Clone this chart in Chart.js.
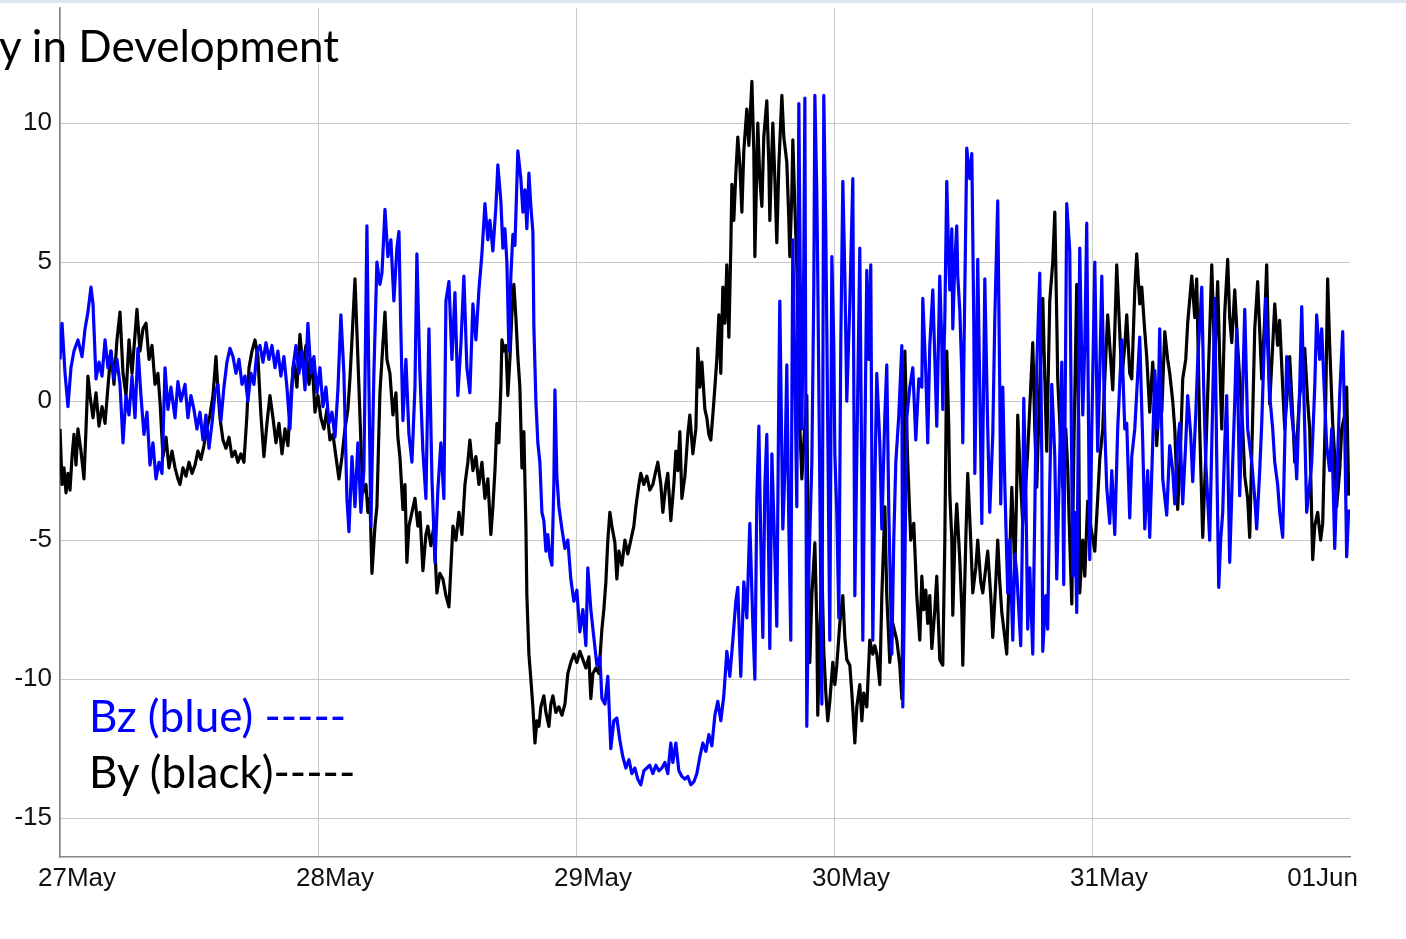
<!DOCTYPE html>
<html><head><meta charset="utf-8">
<script src="https://cdn.jsdelivr.net/npm/chart.js@4.4.1/dist/chart.umd.min.js"></script>
<style>
html,body{margin:0;padding:0;background:#fff;width:1406px;height:939px;overflow:hidden}
#wrap{position:relative;width:1406px;height:939px}
#topband{position:absolute;left:0;top:0;width:1406px;height:3px;background:#dfe6f1}
canvas{position:absolute;left:0;top:0}
.txt{position:absolute;font-family:Lato,'Open Sans',sans-serif;font-size:44px;line-height:44px;white-space:nowrap}
</style></head><body>
<div id="wrap">
<canvas id="c" width="1406" height="939"></canvas>
<div id="topband"></div>
<div class="txt" style="left:-1px;top:23px;color:#000">y in Development</div>
<div class="txt" style="left:89px;top:693px;color:#0000ff">Bz (blue) -----</div>
<div class="txt" style="left:89px;top:749px;color:#000">By (black)-----</div>
</div>
<script>
// hours since 27 May 00:00, field in nT
const bzSamples = [
[0,1.5],[0.19,2.8],[0.47,1.0],[0.74,-0.2],[1.02,1.2],[1.30,1.8],[1.67,2.2],[2.05,1.6],[2.33,2.6],[2.60,3.2],[2.88,4.1],[3.07,3.5],[3.35,0.8],[3.63,1.4],[3.91,0.9],[4.19,2.2],[4.46,1.2],[4.74,1.8],[5.02,0.8],[5.30,1.5],[5.58,0.6],[5.86,-1.5],[6.14,0.2],[6.42,-0.5],[6.70,0.9],[6.98,-0.6],[7.25,1.9],[7.53,0.2],[7.81,-1.2],[8.09,-0.4],[8.37,-2.3],[8.65,-1.5],[8.93,-2.8],[9.21,-2.2],[9.49,-2.6],[9.77,1.2],[10.04,-0.3],[10.32,0.5],[10.70,-0.6],[10.97,0.7],[11.25,0.0],[11.63,0.6],[11.90,-0.6],[12.18,0.2],[12.46,-0.3],[12.74,-1.0],[13.02,-0.4],[13.30,-1.4],[13.58,-0.5],[13.86,-1.7],[14.14,-0.8],[14.42,0.3],[14.69,0.6],[14.97,-0.7],[15.25,0.5],[15.53,1.4],[15.81,1.9],[16.09,1.6],[16.37,1.0],[16.65,1.5],[16.93,0.6],[17.21,0.9],[17.48,0.0],[17.76,1.0],[18.04,0.6],[18.32,1.8],[18.60,2.0],[18.88,1.4],[19.16,2.1],[19.44,1.5],[19.72,2.0],
[20.00,1.2],[20.27,1.8],[20.55,0.9],[20.83,1.6],[21.11,0.5],[21.39,-1.0],[21.67,1.2],[21.95,2.0],[22.23,1.0],[22.51,1.8],[22.79,0.4],[23.06,2.8],[23.34,1.0],[23.62,1.6],[23.90,0.3],[24.18,1.2],[24.46,-0.2],[24.74,0.5],[25.02,-0.8],[25.30,-0.4],[25.58,-1.3],[25.85,0.4],[26.13,3.1],[26.41,1.0],[26.69,-3.5],[26.88,-4.7],[27.16,-2.0],[27.44,-3.8],[27.71,-1.5],[27.99,-4.0],[28.27,-2.5],[28.55,6.3],[28.74,0.5],[28.92,-4.5],[29.20,1.0],[29.48,5.0],[29.76,4.2],[29.95,4.6],[30.23,6.9],[30.50,5.2],[30.78,5.8],[31.06,3.6],[31.34,5.5],[31.53,6.1],[31.71,2.5],[31.90,-0.7],[32.18,1.5],[32.46,-1.2],[32.74,-2.2],[33.02,0.5],[33.20,5.3],[33.48,1.0],[33.76,-1.8],[34.04,-3.5],[34.32,2.6],[34.60,-2.8],[34.88,-5.8],[35.15,-3.2],[35.43,-1.5],[35.71,-3.5],[35.90,3.6],[36.18,4.3],[36.46,1.5],[36.74,3.9],[37.01,0.2],[37.29,2.0],[37.57,4.5],[37.85,1.2],[38.13,0.3],[38.41,3.5],[38.69,2.2],[38.97,4.0],[39.25,5.3],[39.53,7.1],[39.80,5.8],
[39.99,6.5],[40.27,5.4],[40.55,7.0],[40.73,8.5],[41.01,7.2],[41.20,5.5],[41.39,6.2],[41.57,5.0],[41.76,1.8],[41.94,4.5],[42.13,6.0],[42.32,5.6],[42.59,9.0],[42.87,8.0],[43.06,6.8],[43.25,7.6],[43.43,6.2],[43.62,8.2],[43.80,7.0],[43.99,6.1],[44.08,2.7],[44.27,0.0],[44.45,-1.5],[44.64,-2.2],[44.83,-4.0],[45.01,-4.3],[45.20,-5.4],[45.38,-4.8],[45.57,-5.6],[45.76,-5.9],[45.94,-3.0],[46.04,0.4],[46.22,-2.7],[46.41,-3.8],[46.69,-4.6],[46.97,-5.3],[47.24,-5.0],[47.52,-6.4],[47.80,-7.2],[48.08,-6.8],[48.36,-8.3],[48.64,-7.5],[48.92,-8.8],[49.10,-6.0],[49.38,-7.5],[49.66,-8.5],[49.94,-9.5],[50.22,-9.2],[50.41,-10.7],[50.69,-10.9],[50.96,-9.9],[51.24,-12.5],[51.52,-11.5],[51.80,-11.4],[52.08,-12.2],[52.36,-12.8],[52.64,-13.2],[52.92,-12.9],[53.20,-13.4],[53.48,-13.2],[53.75,-13.6],[54.03,-13.8],[54.31,-13.3],[54.59,-13.2],[54.87,-13.1],[55.15,-13.4],[55.43,-13.1],[55.71,-13.3],[55.99,-13.2],[56.27,-13.0],[56.54,-13.4],[56.82,-12.3],[57.01,-13.0],[57.29,-12.3],[57.57,-13.3],[57.85,-13.5],[58.13,-13.6],[58.40,-13.5],[58.68,-13.8],[58.96,-13.7],[59.24,-13.4],[59.52,-12.8],[59.80,-12.3],
[60.08,-12.6],[60.36,-12.0],[60.64,-12.4],[60.92,-11.3],[61.19,-10.8],[61.47,-11.5],[61.75,-10.6],[62.03,-9.0],[62.31,-9.9],[62.59,-8.6],[62.87,-7.2],[63.05,-6.7],[63.33,-9.9],[63.61,-6.5],[63.89,-7.8],[64.17,-4.4],[64.45,-8.0],[64.64,-10.0],[64.82,-3.5],[65.01,-0.9],[65.19,-5.0],[65.38,-8.5],[65.57,-3.0],[65.75,-1.2],[65.94,-6.0],[66.03,-8.9],[66.22,-1.9],[66.50,-5.5],[66.68,-8.1],[66.87,0.5],[66.96,3.6],[67.15,-2.0],[67.24,-4.6],[67.43,-2.5],[67.61,1.3],[67.80,-4.5],[67.98,-8.6],[68.08,0.0],[68.17,5.8],[68.36,1.0],[68.54,-3.8],[68.73,10.7],[68.91,2.0],[69.01,-1.0],[69.19,5.0],[69.29,10.9],[69.47,-11.7],[69.66,-6.0],[69.94,-2.2],[70.12,4.0],[70.22,11.0],[70.40,7.5],[70.49,4.5],[70.68,-3.0],[70.87,-10.9],[71.05,11.0],[71.24,6.0],[71.33,2.6],[71.61,-8.6],[71.80,5.2],[71.98,2.0],[72.08,-1.9],[72.26,-4.0],[72.45,-7.8],[72.63,2.0],[72.82,7.9],[73.01,4.5],[73.19,0.0],[73.47,3.5],[73.75,8.0],[73.94,-7.0],[74.12,-2.0],[74.40,5.5],[74.59,-3.0],[74.68,-8.6],[74.87,-1.5],[75.05,4.7],[75.24,1.5],[75.42,4.9],[75.61,-8.6],[75.80,-3.0],[75.98,1.0],[76.26,-1.5],[76.45,-4.6],[76.73,-0.5],[76.91,1.3],[77.10,-4.0],[77.38,-9.1],[77.56,-5.0],[77.75,-2.2],[78.03,-0.5],[78.31,2.0],[78.40,-11.0],[78.59,-6.0],[78.77,-0.6],[79.05,0.5],[79.33,1.2],[79.61,-1.4],[79.89,0.8],
[80.17,0.5],[80.26,3.7],[80.54,1.0],[80.72,-1.5],[80.91,2.0],[81.19,4.0],[81.38,1.5],[81.56,-0.9],[81.84,4.5],[82.03,2.0],[82.12,-0.3],[82.31,3.0],[82.49,7.9],[82.68,5.0],[82.77,4.0],[82.96,6.2],[83.05,2.6],[83.24,5.0],[83.42,6.3],[83.51,4.5],[83.70,3.3],[83.89,1.0],[83.98,-1.5],[84.17,4.0],[84.35,9.1],[84.63,8.0],[84.82,8.9],[85.00,3.0],[85.10,-2.6],[85.28,2.0],[85.37,5.1],[85.56,0.5],[85.75,-4.4],[85.93,1.0],[86.03,4.4],[86.30,-1.0],[86.49,-4.0],[86.77,-1.2],[86.96,3.0],[87.23,7.2],[87.42,0.5],[87.51,-3.7],[87.70,0.5],[87.89,-3.0],[88.16,-6.9],[88.35,-5.0],[88.63,-8.6],[88.82,-5.5],[89.00,-6.2],[89.19,-7.5],[89.37,-8.8],[89.56,-4.0],[89.65,0.1],[89.84,-3.0],[90.02,-8.2],[90.21,-6.0],[90.49,-9.1],[90.68,-4.0],[90.86,1.2],[91.14,4.6],[91.33,-2.0],[91.42,-9.0],[91.70,-7.0],[91.88,-8.2],[92.07,-3.0],[92.26,0.6],[92.54,-2.0],[92.72,-6.4],[93.00,-2.0],[93.19,1.4],[93.37,-6.6],[93.65,7.1],[93.93,5.4],[94.21,-6.3],[94.40,-4.0],[94.58,-7.6],[94.86,5.5],[95.14,-0.5],[95.33,2.0],[95.51,6.4],[95.79,-5.7],[95.98,-1.0],[96.26,5.0],[96.53,-1.8],[96.72,1.0],[96.91,4.5],[97.19,-1.0],[97.37,-3.1],[97.65,-4.4],[97.84,-2.5],[98.12,-4.8],[98.39,-1.0],[98.77,2.2],[99.05,-1.0],[99.23,-0.8],[99.51,-4.2],[99.70,-2.0],
[99.98,-1.0],[100.44,2.3],[100.72,-1.5],[100.91,-4.6],[101.18,-2.5],[101.37,-4.9],[101.65,-1.5],[101.84,1.1],[102.11,-1.0],[102.30,2.6],[102.58,-2.8],[102.95,-4.1],[103.23,-1.6],[103.51,-2.5],[103.70,-3.7],[103.97,-1.5],[104.16,-0.8],[104.44,-3.7],[104.72,-1.5],[104.90,0.2],[105.18,-1.2],[105.37,-2.9],[105.65,-0.5],[105.83,1.4],[106.21,4.1],[106.39,0.5],[106.58,-2.2],[106.76,-3.5],[106.95,-5.0],[107.23,0.0],[107.42,3.7],[107.60,-2.0],[107.79,-6.7],[107.97,-5.0],[108.16,-4.0],[108.35,-1.5],[108.53,0.2],[108.81,-5.8],[109.09,-2.2],[109.28,0.0],[109.46,2.6],[109.74,-3.4],[110.02,0.5],[110.21,3.3],[110.48,-1.0],[110.86,-2.2],[111.14,-3.5],[111.32,-4.6],[111.60,-2.5],[111.79,-0.8],[112.16,3.7],[112.53,0.2],[112.81,-1.0],[113.00,-2.2],[113.27,-3.0],[113.46,-4.0],[113.74,-4.9],[114.11,1.6],[114.39,0.5],[114.58,-0.5],[114.86,-1.5],[115.04,-2.8],[115.32,0.5],[115.51,3.4],[115.79,-1.0],[115.97,-4.0],[116.25,-3.0],[116.44,-2.2],[116.72,0.5],[116.90,3.1],[117.18,1.5],[117.37,2.6],[117.65,0.0],[117.83,-1.6],[118.11,-2.5],[118.30,-1.0],[118.58,-5.3],[118.85,-2.0],[119.04,0.2],[119.32,2.5],[119.51,-1.0],[119.69,-5.6],[119.88,-3.9]
];
const bySamples = [
[0,-1.0],[0.19,-3.0],[0.37,-2.4],[0.56,-3.3],[0.74,-2.6],[0.93,-3.2],[1.12,-2.0],[1.30,-1.2],[1.49,-2.3],[1.67,-1.0],[1.95,-1.8],[2.23,-2.8],[2.42,-1.0],[2.60,0.9],[2.79,0.2],[3.07,-0.6],[3.35,0.3],[3.63,-0.9],[3.91,-0.2],[4.19,-0.8],[4.46,0.5],[4.74,1.8],[5.02,0.6],[5.30,2.2],[5.58,3.2],[5.86,1.0],[6.14,0.2],[6.42,2.2],[6.70,1.0],[6.98,2.4],[7.16,3.3],[7.44,1.8],[7.72,2.6],[8.00,2.8],[8.28,1.5],[8.56,2.0],[8.84,0.6],[9.11,1.0],[9.30,0.0],[9.58,-2.0],[9.86,-1.3],[10.14,-2.4],[10.42,-1.8],[10.70,-2.4],[10.97,-2.8],[11.16,-3.0],[11.44,-2.4],[11.72,-2.7],[12.00,-2.2],[12.28,-2.6],[12.56,-2.3],[12.83,-1.8],[13.11,-2.1],[13.39,-1.6],[13.67,-1.0],[13.95,-0.5],[14.23,0.2],[14.51,1.6],[14.69,0.4],[14.88,-0.6],[15.16,-1.4],[15.44,-1.7],[15.72,-1.3],[16.00,-2.0],[16.28,-1.8],[16.55,-2.2],[16.83,-1.9],[17.11,-2.2],[17.39,-0.5],[17.58,1.2],[17.86,1.8],[18.14,2.2],[18.41,1.6],[18.69,-0.5],[18.97,-2.0],[19.25,-0.8],[19.53,0.2],
[19.81,-0.6],[20.09,-1.5],[20.37,-0.8],[20.65,-1.9],[20.93,-1.0],[21.20,-1.6],[21.48,0.2],[21.76,1.4],[22.04,0.5],[22.32,2.4],[22.60,1.2],[22.88,2.0],[23.16,0.6],[23.44,1.5],[23.72,-0.4],[23.99,0.2],[24.27,-0.6],[24.55,-1.0],[24.83,-0.3],[25.11,-1.4],[25.39,-1.2],[25.67,-2.0],[25.95,-2.8],[26.23,-2.0],[26.51,-1.0],[26.78,-0.3],[26.97,0.8],[27.16,2.2],[27.44,4.4],[27.62,2.5],[27.81,0.5],[27.99,-1.5],[28.18,-3.3],[28.46,-3.0],[28.64,-4.0],[28.83,-3.5],[29.02,-6.2],[29.30,-4.5],[29.48,-3.8],[29.76,0.3],[29.95,1.5],[30.23,3.2],[30.41,1.5],[30.69,1.0],[30.97,-0.5],[31.25,0.3],[31.43,-1.3],[31.62,-2.0],[31.90,-3.9],[32.09,-3.0],[32.27,-5.8],[32.46,-4.5],[32.74,-4.0],[33.02,-3.5],[33.29,-4.5],[33.48,-4.0],[33.76,-6.1],[34.04,-4.8],[34.22,-4.5],[34.50,-5.2],[34.78,-4.5],[35.06,-6.9],[35.34,-6.2],[35.62,-6.4],[35.90,-7.0],[36.18,-7.4],[36.36,-6.0],[36.55,-4.5],[36.83,-5.0],[37.11,-4.0],[37.39,-4.8],[37.67,-3.0],[37.94,-2.2],[38.13,-1.4],[38.41,-2.5],[38.69,-2.0],[38.97,-3.0],[39.25,-2.2],[39.53,-3.5],[39.80,-2.8],
[40.08,-4.8],[40.27,-3.8],[40.46,-2.5],[40.64,-0.8],[40.83,-1.5],[41.01,0.5],[41.11,2.2],[41.29,1.8],[41.48,2.0],[41.66,0.2],[41.85,1.5],[42.04,3.2],[42.22,4.2],[42.41,3.0],[42.59,1.6],[42.78,0.5],[42.97,-2.4],[43.15,-1.1],[43.34,-4.5],[43.43,-7.0],[43.62,-9.1],[43.80,-10.0],[43.99,-11.0],[44.18,-12.3],[44.36,-11.5],[44.55,-11.7],[44.73,-11.0],[45.01,-10.6],[45.20,-11.2],[45.48,-11.7],[45.66,-10.9],[45.85,-10.6],[46.13,-11.2],[46.41,-11.0],[46.69,-11.3],[46.97,-10.9],[47.24,-9.8],[47.52,-9.4],[47.80,-9.1],[48.08,-9.4],[48.36,-9.0],[48.64,-9.3],[48.92,-9.6],[49.20,-9.2],[49.38,-10.7],[49.57,-9.8],[49.85,-9.6],[50.13,-9.8],[50.41,-8.2],[50.59,-7.5],[50.78,-6.5],[50.96,-5.0],[51.15,-4.0],[51.34,-4.5],[51.62,-5.1],[51.80,-6.4],[51.99,-5.4],[52.27,-5.9],[52.55,-5.0],[52.82,-5.5],[53.10,-5.0],[53.38,-4.5],[53.57,-3.8],[53.85,-3.0],[54.03,-2.6],[54.31,-3.0],[54.59,-2.7],[54.87,-3.2],[55.15,-3.0],[55.43,-2.5],[55.61,-2.2],[55.89,-3.0],[56.08,-4.0],[56.36,-3.0],[56.54,-2.6],[56.82,-4.3],[57.10,-3.0],[57.29,-1.8],[57.47,-2.5],[57.66,-1.1],[57.85,-3.5],[58.13,-2.7],[58.40,-1.2],[58.59,-0.5],[58.87,-1.9],[59.15,-1.0],[59.33,1.9],[59.52,0.5],[59.71,1.4],
[59.99,-0.3],[60.17,-0.6],[60.36,-1.2],[60.54,-1.4],[60.73,-0.5],[60.92,0.5],[61.10,1.5],[61.29,3.1],[61.47,1.0],[61.66,4.1],[61.85,2.8],[62.03,4.9],[62.22,2.3],[62.40,5.5],[62.50,7.8],[62.68,6.5],[62.87,8.2],[63.05,9.5],[63.24,8.5],[63.43,6.8],[63.61,9.0],[63.89,10.5],[64.08,9.2],[64.36,11.5],[64.54,9.0],[64.64,5.2],[64.82,8.5],[64.91,10.0],[65.10,8.0],[65.29,7.0],[65.47,9.5],[65.75,10.8],[65.94,8.5],[66.03,6.5],[66.22,9.0],[66.31,10.0],[66.50,8.0],[66.68,5.7],[66.87,8.5],[67.15,11.0],[67.33,9.5],[67.61,8.6],[67.80,6.5],[67.89,5.2],[68.08,7.5],[68.17,9.4],[68.36,7.0],[68.54,4.9],[68.73,1.0],[68.82,-0.9],[69.01,-2.8],[69.19,-1.5],[69.47,0.2],[69.56,-4.0],[69.75,-9.4],[69.94,-7.0],[70.22,-5.1],[70.40,-8.0],[70.49,-11.3],[70.68,-8.5],[70.87,-5.9],[71.05,-9.0],[71.24,-10.5],[71.42,-11.5],[71.61,-10.8],[71.89,-9.4],[72.08,-10.2],[72.26,-9.5],[72.54,-8.0],[72.82,-7.0],[73.01,-8.5],[73.19,-9.3],[73.47,-9.5],[73.66,-10.5],[73.94,-12.3],[74.12,-11.0],[74.40,-10.2],[74.59,-11.5],[74.77,-10.5],[75.05,-11.0],[75.33,-8.6],[75.61,-9.1],[75.80,-8.8],[75.98,-9.1],[76.26,-10.2],[76.45,-7.0],[76.73,-3.8],[76.91,-7.0],[77.19,-9.4],[77.47,-8.0],[77.84,-8.6],[78.12,-9.5],[78.31,-10.7],[78.49,-4.0],[78.59,1.8],[78.77,-1.0],[78.86,-2.2],[79.14,-5.0],[79.42,-4.4],[79.70,-7.0],[79.98,-8.6],
[80.17,-6.3],[80.35,-7.5],[80.54,-6.8],[80.72,-8.0],[80.91,-7.0],[81.10,-8.9],[81.38,-7.5],[81.56,-6.3],[81.84,-9.3],[82.12,-9.5],[82.31,-5.0],[82.49,1.8],[82.68,-1.0],[82.77,-3.3],[82.96,-5.0],[83.05,-7.7],[83.24,-5.0],[83.42,-3.7],[83.70,-5.7],[83.89,-7.5],[83.98,-9.5],[84.26,-5.0],[84.44,-2.6],[84.72,-5.0],[84.91,-6.9],[85.19,-6.0],[85.37,-5.0],[85.65,-6.5],[85.84,-6.9],[86.12,-6.0],[86.30,-5.4],[86.58,-7.0],[86.77,-8.5],[87.05,-6.5],[87.23,-5.0],[87.42,-6.5],[87.61,-7.6],[87.89,-8.5],[88.07,-9.1],[88.35,-5.5],[88.54,-3.1],[88.72,-5.0],[88.82,-6.3],[89.00,-3.0],[89.09,-0.5],[89.37,-3.0],[89.56,-4.4],[89.84,-3.0],[90.02,-1.8],[90.30,0.5],[90.49,2.1],[90.68,-1.0],[90.86,-3.1],[91.14,0.5],[91.42,3.7],[91.61,0.8],[91.79,-1.8],[92.07,3.6],[92.35,5.0],[92.54,6.8],[92.72,3.0],[92.81,0.8],[93.09,-1.5],[93.28,-3.1],[93.56,-1.0],[93.74,-2.4],[93.93,-5.0],[94.12,-7.3],[94.30,-2.0],[94.58,4.2],[94.77,-1.0],[94.86,-6.9],[95.14,-5.0],[95.33,-6.3],[95.60,-3.6],[95.88,-4.5],[96.26,-5.4],[96.53,-3.5],[96.72,-2.1],[97.00,-1.0],[97.19,0.8],[97.46,3.1],[97.74,1.5],[97.93,0.4],[98.12,2.5],[98.30,4.9],[98.58,2.5],[98.77,0.8],[99.05,2.0],[99.23,3.1],[99.51,1.0],[99.70,0.8],
[99.98,4.0],[100.16,5.3],[100.44,3.5],[100.63,4.1],[100.91,2.5],[101.09,1.6],[101.37,-0.4],[101.65,1.4],[101.84,0.0],[102.02,-1.6],[102.30,0.5],[102.49,-0.4],[102.77,2.5],[103.04,1.5],[103.23,1.0],[103.51,0.0],[103.70,-1.0],[103.97,-3.9],[104.25,-1.5],[104.44,0.8],[104.72,1.5],[104.90,2.8],[105.28,4.5],[105.56,3.0],[105.74,4.4],[106.02,-1.0],[106.30,-4.9],[106.58,-2.0],[106.76,0.2],[106.95,2.5],[107.14,4.9],[107.42,1.4],[107.69,4.3],[107.88,1.5],[108.07,-1.0],[108.35,3.2],[108.62,5.1],[108.81,3.0],[109.00,2.1],[109.28,4.0],[109.55,2.0],[109.74,0.8],[110.02,-1.0],[110.21,-2.7],[110.48,-3.5],[110.67,-4.9],[110.95,-0.5],[111.14,2.6],[111.41,4.3],[111.79,0.8],[112.07,3.0],[112.25,4.9],[112.53,-0.1],[112.81,2.0],[113.00,3.5],[113.27,2.0],[113.46,2.9],[113.74,0.5],[113.93,-1.0],[114.20,0.5],[114.39,1.6],[114.67,-0.5],[114.86,-2.2],[115.13,-1.0],[115.32,0.2],[115.60,1.0],[115.79,1.9],[116.06,0.0],[116.25,-1.0],[116.53,-5.7],[116.72,-4.5],[116.99,-4.0],[117.27,-5.0],[117.46,-4.4],[117.74,0.0],[117.92,4.4],[118.11,2.0],[118.39,-0.8],[118.58,-2.0],[118.76,-3.8],[119.04,-2.5],[119.23,-1.0],[119.51,-0.5],[119.69,0.5],[119.88,-3.4]
];
const yTickValues = [-15, -10, -5, 0, 5, 10];
const dayTickHours = [0, 24, 48, 72, 96, 120];
const dayTickLabels = ['27May', '28May', '29May', '30May', '31May', '01Jun'];

const tickFont = "26px 'Liberation Sans', Arial, Helvetica, sans-serif";
const toPts = s => s.map(p => ({x: p[0], y: p[1]}));

const dayLabels = {
  id: 'dayLabels',
  afterDraw(chart) {
    const ctx = chart.ctx, xs = chart.scales.x;
    ctx.save();
    ctx.font = tickFont;
    ctx.fillStyle = '#111111';
    ctx.textBaseline = 'alphabetic';
    dayTickHours.forEach((h, i) => {
      const px = xs.getPixelForValue(h);
      if (i === dayTickHours.length - 1) { ctx.textAlign = 'right'; ctx.fillText(dayTickLabels[i], px + 8, 886); }
      else { ctx.textAlign = 'center'; ctx.fillText(dayTickLabels[i], px + 17, 886); }
    });
    ctx.restore();
  }
};

new Chart(document.getElementById('c'), {
  type: 'line',
  data: { datasets: [
    { label: 'Bz', data: toPts(bzSamples), borderColor: '#0000ff', borderWidth: 3.2, pointRadius: 0, tension: 0, fill: false, borderJoinStyle: 'round' },
    { label: 'By', data: toPts(bySamples), borderColor: '#000000', borderWidth: 3.2, pointRadius: 0, tension: 0, fill: false, borderJoinStyle: 'round' }
  ]},
  options: {
    responsive: false, animation: false, devicePixelRatio: 1,
    layout: { padding: { left: 0, right: 56, top: 8, bottom: 82 } },
    plugins: { legend: { display: false }, tooltip: { enabled: false } },
    scales: {
      x: {
        type: 'linear', min: 0, max: 120,
        afterBuildTicks: a => { a.ticks = dayTickHours.slice(0, 5).map(v => ({value: v})); },
        afterFit: a => { a.height = 0; a.paddingLeft = 0; a.paddingRight = 0; },
        ticks: { display: false },
        grid: { color: '#c8c8c8', lineWidth: 1, drawTicks: false },
        border: { display: true, color: '#858585', width: 1.5 }
      },
      y: {
        type: 'linear', min: -16.4, max: 14.14,
        afterBuildTicks: a => { a.ticks = yTickValues.map(v => ({value: v})); },
        afterFit: a => { a.width = 60; a.paddingTop = 0; a.paddingBottom = 0; },
        ticks: { font: { family: "'Liberation Sans', Arial, Helvetica, sans-serif", size: 26 }, color: '#111111', padding: 8 },
        grid: { color: '#c8c8c8', lineWidth: 1, drawTicks: false },
        border: { display: true, color: '#858585', width: 1.5 }
      }
    }
  },
  plugins: [dayLabels]
});
</script>
</body></html>
